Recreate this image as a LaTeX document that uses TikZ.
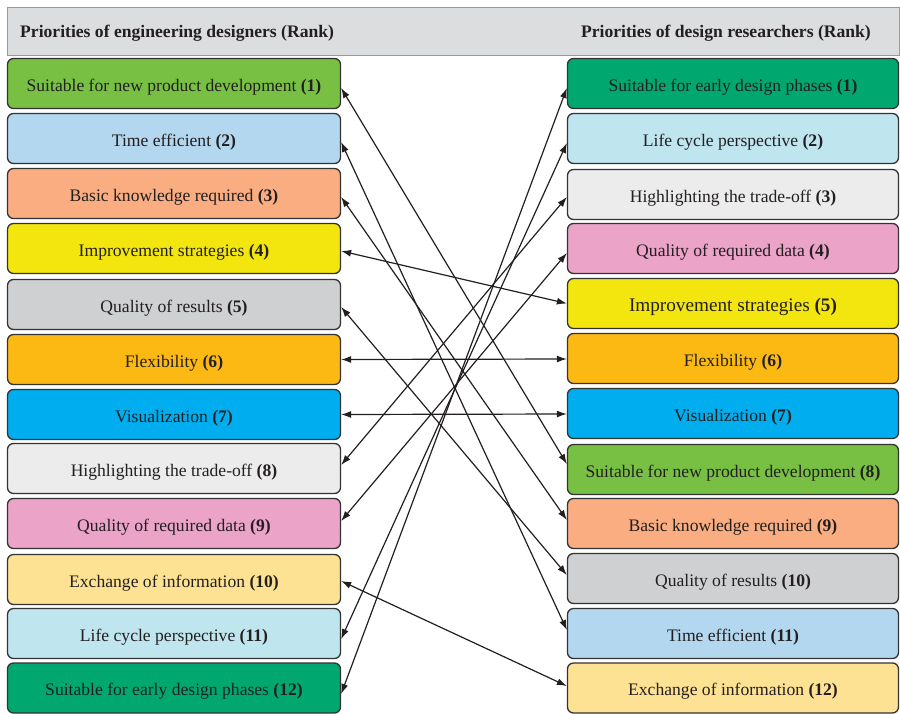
\documentclass[tikz,border=0pt]{standalone}
\usepackage{fontspec}
\setmainfont{Liberation Serif}
\usetikzlibrary{arrows.meta}
\definecolor{txt}{HTML}{231F20}
\definecolor{cSNPD}{HTML}{77C043}
\definecolor{cTime}{HTML}{B3D7EF}
\definecolor{cBasic}{HTML}{F9AD80}
\definecolor{cImpr}{HTML}{F3E60F}
\definecolor{cQres}{HTML}{CFD0D2}
\definecolor{cFlex}{HTML}{FDB913}
\definecolor{cVis}{HTML}{00AEEF}
\definecolor{cHigh}{HTML}{ECECEC}
\definecolor{cQdata}{HTML}{EBA3C8}
\definecolor{cExch}{HTML}{FEE293}
\definecolor{cLife}{HTML}{BFE5EE}
\definecolor{cEarly}{HTML}{00A870}
\definecolor{cHead}{HTML}{DCDDDF}
\begin{document}
\begin{tikzpicture}[x=1pt,y=-1pt,
  box/.style={draw=black!80, line width=1.3pt, rounded corners=6pt, minimum height=50pt, text=txt, font=\fontsize{17.6}{19}\selectfont, inner sep=0pt, text height=15pt, text depth=0pt},
  lbox/.style={box, minimum width=333pt},
  rbox/.style={box, minimum width=331pt},
  htext/.style={font=\fontsize{17.6}{19}\selectfont\bfseries, text=txt, inner sep=0pt},
  link/.style={draw=txt, line width=1.2pt, {Latex[length=10pt,width=7pt]}-{Latex[length=10pt,width=7pt]}}]
\useasboundingbox (0,0) rectangle (900,713);
\node[draw=black!40, line width=1pt, fill=cHead, minimum width=892pt, minimum height=48pt, inner sep=0pt] (hdr) at (453,31) {};
\node[htext, anchor=west] (hl) at (20,33.5) {Priorities of engineering designers (Rank)};
\node[htext, anchor=east] (hr) at (871,33.5) {Priorities of design researchers (Rank)};
% left column
\node[lbox, fill=cSNPD] (L1) at (174,83.5) {Suitable for new product development \textbf{(1)}};
\node[lbox, fill=cTime] (L2) at (174,138.5) {Time efficient \textbf{(2)}};
\node[lbox, fill=cBasic] (L3) at (174,193.5) {Basic knowledge required \textbf{(3)}};
\node[lbox, fill=cImpr] (L4) at (174,248.5) {Improvement strategies \textbf{(4)}};
\node[lbox, fill=cQres] (L5) at (174,304.5) {Quality of results \textbf{(5)}};
\node[lbox, fill=cFlex] (L6) at (174,359.5) {Flexibility \textbf{(6)}};
\node[lbox, fill=cVis] (L7) at (174,414.5) {Visualization \textbf{(7)}};
\node[lbox, fill=cHigh] (L8) at (174,468.5) {Highlighting the trade-off \textbf{(8)}};
\node[lbox, fill=cQdata] (L9) at (174,523.5) {Quality of required data \textbf{(9)}};
\node[lbox, fill=cExch] (L10) at (174,579.5) {Exchange of information \textbf{(10)}};
\node[lbox, fill=cLife] (L11) at (174,633.5) {Life cycle perspective \textbf{(11)}};
\node[lbox, fill=cEarly] (L12) at (174,688) {Suitable for early design phases \textbf{(12)}};
% right column
\node[rbox, fill=cEarly] (R1) at (733,83.5) {Suitable for early design phases \textbf{(1)}};
\node[rbox, fill=cLife] (R2) at (733,138.5) {Life cycle perspective \textbf{(2)}};
\node[rbox, fill=cHigh] (R3) at (733,194.5) {Highlighting the trade-off \textbf{(3)}};
\node[rbox, fill=cQdata] (R4) at (733,248.5) {Quality of required data \textbf{(4)}};
\node[rbox, fill=cImpr, font=\fontsize{19.2}{21}\selectfont] (R5) at (733,303.5) {Improvement strategies \textbf{(5)}};
\node[rbox, fill=cFlex] (R6) at (733,358.5) {Flexibility \textbf{(6)}};
\node[rbox, fill=cVis] (R7) at (733,413.5) {Visualization \textbf{(7)}};
\node[rbox, fill=cSNPD] (R8) at (733,469.5) {Suitable for new product development \textbf{(8)}};
\node[rbox, fill=cBasic] (R9) at (733,523.5) {Basic knowledge required \textbf{(9)}};
\node[rbox, fill=cQres] (R10) at (733,578.5) {Quality of results \textbf{(10)}};
\node[rbox, fill=cTime] (R11) at (733,633.5) {Time efficient \textbf{(11)}};
\node[rbox, fill=cExch] (R12) at (733,688) {Exchange of information \textbf{(12)}};
% connectors
\draw[link] ([yshift=-4.5pt]L1.east) -- ([yshift=5.5pt]R8.west);
\draw[link] ([yshift=-3.5pt]L2.east) -- ([yshift=3.5pt]R11.west);
\draw[link] ([yshift=-3.5pt]L3.east) -- ([yshift=3.5pt]R9.west);
\draw[link] ([yshift=-2.5pt]L4.east) -- (R5.west);
\draw[link] ([yshift=-2.5pt]L5.east) -- ([yshift=3.5pt]R10.west);
\draw[link] (L6.east) -- ([yshift=-0.5pt]R6.west);
\draw[link] (L7.east) -- ([yshift=-0.5pt]R7.west);
\draw[link] ([yshift=3.5pt]L8.east) -- ([yshift=-2.5pt]R3.west);
\draw[link] ([yshift=2.5pt]L9.east) -- ([yshift=-4.5pt]R4.west);
\draw[link] ([yshift=-1.5pt]L10.east) -- ([yshift=2pt]R12.west);
\draw[link] ([yshift=-5.5pt]L11.east) -- ([yshift=-4.5pt]R2.west);
\draw[link] ([yshift=-6pt]L12.east) -- ([yshift=-4.5pt]R1.west);
\end{tikzpicture}
\end{document}
